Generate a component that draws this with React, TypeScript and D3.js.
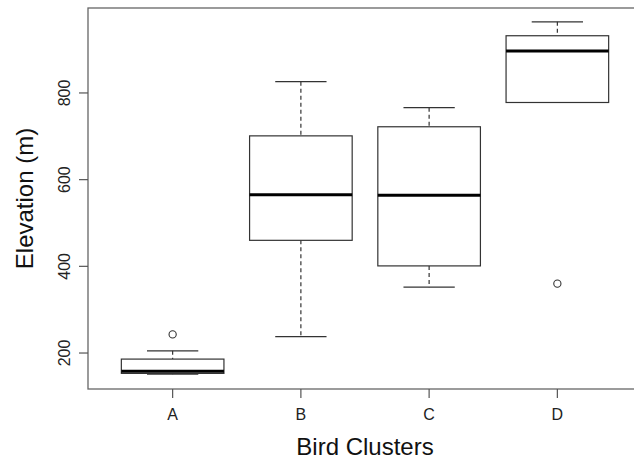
import * as d3 from "d3";

const categories = ["A", "B", "C", "D"];
const lowerWhisker = [151, 238, 352, 778];
const q1 = [153, 460, 401, 778];
const median = [158, 565, 564, 897];
const q3 = [186, 701, 722, 932];
const upperWhisker = [205, 826, 766, 964];
const outliers = [
  { cat: "A", value: 243 },
  { cat: "D", value: 360 },
];
const yTicks = [200, 400, 600, 800];

export default function App() {
  const width = 634;
  const height = 460;
  const left = 88;
  const right = 642; // R's plot region runs past the image edge
  const top = 8;
  const bottom = 389;

  // R boxplot: xlim 0.5..n+0.5, widened by 4%
  const x = d3.scaleLinear().domain([0.34, 4.66]).range([left, right]);
  const y = d3.scaleLinear().domain([117, 996]).range([bottom, top]);

  const step = x(2) - x(1);
  const boxW = step * 0.8;
  const capW = boxW / 2;
  const font = "'Liberation Sans', Arial, Helvetica, sans-serif";
  const line = "#333";
  const tickStyle = { fontSize: "16px", fontFamily: font };
  const titleStyle = { fontSize: "24px", fontFamily: font };

  return (
    <svg
      width={width}
      height={height}
      style={{ position: "absolute", left: 0, top: 0, background: "#fff" }}
    >
      {/* frame */}
      <rect x={left} y={top} width={right - left} height={bottom - top}
        fill="none" stroke="#666" strokeWidth={1.3} />

      {/* y axis */}
      {yTicks.map(t => (
        <g key={t}>
          <line x1={left - 9} x2={left} y1={y(t)} y2={y(t)} stroke="#555" strokeWidth={1.2} />
          <text transform={`translate(70,${y(t)}) rotate(-90)`} textAnchor="middle"
            style={tickStyle} fill="#222">{t}</text>
        </g>
      ))}

      {/* x axis */}
      {categories.map((c, i) => (
        <g key={c}>
          <line x1={x(i + 1)} x2={x(i + 1)} y1={bottom} y2={bottom + 9} stroke="#555" strokeWidth={1.2} />
          <text x={x(i + 1)} y={420} textAnchor="middle" style={tickStyle} fill="#222">{c}</text>
        </g>
      ))}

      {/* boxes */}
      {categories.map((c, i) => {
        const cx = x(i + 1);
        return (
          <g key={c}>
            <line x1={cx} x2={cx} y1={y(upperWhisker[i])} y2={y(q3[i])}
              stroke={line} strokeWidth={1.2} strokeDasharray="4,3" />
            <line x1={cx} x2={cx} y1={y(q1[i])} y2={y(lowerWhisker[i])}
              stroke={line} strokeWidth={1.2} strokeDasharray="4,3" />
            <line x1={cx - capW / 2} x2={cx + capW / 2} y1={y(upperWhisker[i])} y2={y(upperWhisker[i])}
              stroke={line} strokeWidth={1.2} />
            <line x1={cx - capW / 2} x2={cx + capW / 2} y1={y(lowerWhisker[i])} y2={y(lowerWhisker[i])}
              stroke={line} strokeWidth={1.2} />
            <rect x={cx - boxW / 2} y={y(q3[i])} width={boxW} height={y(q1[i]) - y(q3[i])}
              fill="#fff" stroke={line} strokeWidth={1.2} />
            <line x1={cx - boxW / 2} x2={cx + boxW / 2} y1={y(median[i])} y2={y(median[i])}
              stroke="#000" strokeWidth={3} />
          </g>
        );
      })}

      {/* outliers */}
      {outliers.map((o, i) => (
        <circle key={i} cx={x(categories.indexOf(o.cat) + 1)} cy={y(o.value)} r={3.6}
          fill="none" stroke={line} strokeWidth={1.1} />
      ))}

      {/* axis titles */}
      <text x={x(2.5)} y={455} textAnchor="middle" style={titleStyle} fill="#111">Bird Clusters</text>
      <text transform={`translate(33,${(top + bottom) / 2}) rotate(-90)`} textAnchor="middle"
        style={titleStyle} fill="#111">Elevation (m)</text>
    </svg>
  );
}
